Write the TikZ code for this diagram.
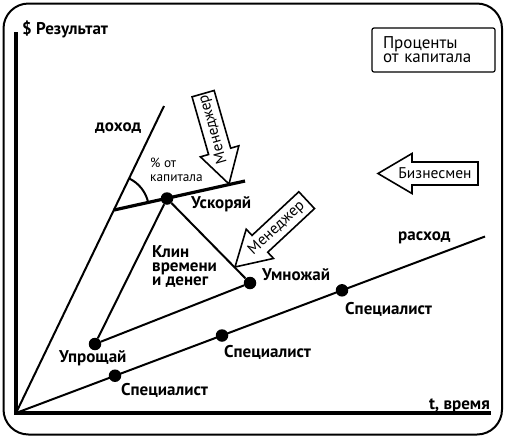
\documentclass[tikz,border=0pt]{standalone}
\usepackage{fontspec}
\setmainfont{PT Sans}
\usetikzlibrary{calc}
\tikzset{
  frame/.style={line width=2pt, rounded corners=25pt},
  axis/.style={line width=3.5pt},
  wline/.style={line width=2pt},
  bline/.style={line width=3.2pt},
  dot/.style={circle, fill=black, inner sep=0pt, minimum size=12.5pt},
  lbl/.style={inner sep=0pt, anchor=base west, font=\bfseries\fontsize{17}{13.7}\selectfont},
  small/.style={inner sep=0pt, anchor=base west, align=left, font=\fontsize{13.3}{13.3}\selectfont},
  arrowline/.style={line width=1.6pt, line join=miter, fill=white},
  arrowtext/.style={inner sep=0pt, font=\fontsize{15.5}{15.5}\selectfont}
}
\newcommand\mgrarrow[5]{% tip, angle, length, name, text
  \begin{scope}[shift={#1}, rotate=#2]
    \draw[arrowline] (0,0) -- (-34,20) -- (-34,11.5) -- (-#3,11.5) -- (-#3,-11.5) -- (-34,-11.5) -- (-34,-20) -- cycle;
    \node[arrowtext, rotate=#2+180] (#4) at (-57,0) {#5};
  \end{scope}}
\begin{document}
\begin{tikzpicture}[x=1pt,y=1pt]
\useasboundingbox (0,0) rectangle (506,-440);
\draw[frame] (3.5,-3.5) rectangle (502,-434.5);
% axes
\coordinate (o) at (16,-413);
\coordinate (ytop) at (16,-32);
\coordinate (xend) at (491,-413);
\draw[axis] (ytop) -- (o) -- (xend);
\node[lbl] (res) at (22,-34) {\$ Результат};
\node[lbl, anchor=base east] (time) at (490,-409.5) {t, время};
% income and expense lines
\coordinate (dtop) at (164,-106);
\coordinate (rend) at (485,-236.5);
\draw[wline] (o) -- (dtop);
\draw[wline] (o) -- (rend);
\node[lbl] (doh) at (95,-131) {доход};
\node[lbl] (rash) at (398,-240) {расход};
% accelerate line
\coordinate (ua) at (114,-210);
\coordinate (ub) at (245,-181);
\draw[bline] (ua) -- (ub);
\draw[wline] ($(ua)+(64.3:35pt)$) arc[start angle=64.3, end angle=12.5, radius=35pt];
\node[small] (pct) at (150,-181) {\% от\\капитала};
% wedge
\node[dot] (usk) at (167,-198.5) {};
\node[dot] (umn) at (250,-283) {};
\node[dot] (upr) at (95,-344) {};
\draw[wline] (usk) -- (umn) -- (upr) -- (usk);
\node[lbl] (uskl) at (191,-208) {Ускоряй};
\node[lbl] (umnl) at (262,-280) {Умножай};
\node[lbl] (uprl) at (59,-362.5) {Упрощай};
\node[lbl, align=left] (klin) at (152,-285) {Клин\\времени\\и денег};
% specialists
\node[dot] (sp1) at (115,-375.7) {};
\node[dot] (sp2) at (222,-335.5) {};
\node[dot] (sp3) at (342,-290.3) {};
\node[lbl] (sp1l) at (121,-395) {Специалист};
\node[lbl] (sp2l) at (224,-357.5) {Специалист};
\node[lbl] (sp3l) at (345,-314) {Специалист};
% arrows
\mgrarrow{(229,-184)}{-74}{94}{man1}{Менеджер}
\mgrarrow{(235,-267)}{-137}{98}{man2}{Менеджер}
\mgrarrow{(378,-173.5)}{180}{100}{bus}{Бизнесмен}
% box
\node[draw, line width=1.2pt, rounded corners=2pt, minimum width=123pt, minimum height=44pt,
      text width=101pt, inner xsep=11pt, align=left, font=\fontsize{17}{14}\selectfont] (box) at (433.5,-50) {Проценты\\от капитала};
\end{tikzpicture}
\end{document}
